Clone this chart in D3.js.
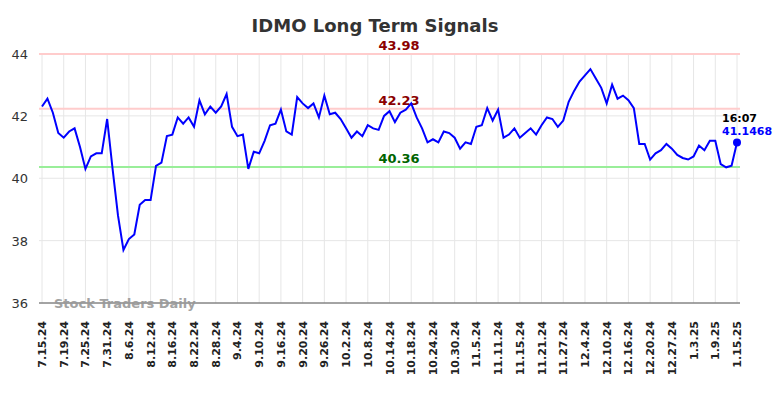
<!DOCTYPE html>
<html>
<head>
<meta charset="utf-8">
<script src="https://cdn.jsdelivr.net/npm/d3@7"></script>
<style>
  body { margin: 0; background: #fff; }
  svg { font-family: "DejaVu Sans", sans-serif; }
</style>
</head>
<body>
<svg id="chart"></svg>
<script>
// tick labels, one every 4 trading days
const tickLabels = ["7.15.24","7.19.24","7.25.24","7.31.24","8.6.24","8.12.24","8.16.24","8.22.24",
  "8.28.24","9.4.24","9.10.24","9.16.24","9.20.24","9.26.24","10.2.24","10.8.24","10.14.24",
  "10.18.24","10.24.24","10.30.24","11.5.24","11.11.24","11.15.24","11.21.24","11.27.24",
  "12.4.24","12.10.24","12.16.24","12.20.24","12.27.24","1.3.25","1.9.25","1.15.25"];

// daily closes
const prices = [42.3,42.55,42.1,41.45,41.3,41.5,41.6,41.0,40.3,40.7,40.8,40.8,41.9,40.3,38.8,37.7,
  38.05,38.2,39.15,39.3,39.3,40.4,40.5,41.35,41.4,41.95,41.75,41.95,41.65,42.5,42.05,42.3,42.1,
  42.3,42.7,41.65,41.35,41.4,40.3,40.85,40.8,41.2,41.7,41.75,42.2,41.5,41.4,42.6,42.4,42.25,42.4,
  41.95,42.65,42.05,42.1,41.9,41.6,41.3,41.5,41.35,41.7,41.6,41.55,42.0,42.15,41.8,42.1,42.2,
  42.4,41.95,41.6,41.15,41.25,41.15,41.5,41.45,41.3,40.95,41.15,41.1,41.65,41.7,42.25,41.85,
  42.2,41.3,41.4,41.6,41.3,41.45,41.6,41.4,41.7,41.95,41.9,41.65,41.85,42.45,42.8,43.1,43.3,
  43.5,43.2,42.9,42.4,43.0,42.55,42.65,42.5,42.25,41.1,41.1,40.6,40.8,40.9,41.1,40.95,40.75,
  40.65,40.6,40.7,41.05,40.9,41.2,41.2,40.45,40.35,40.4,41.1468];

const signalLevels = [43.98, 42.23, 40.36];
const signalColors = ["#ffcccc", "#ffcccc", "#99ee99"];
const signalTextColors = ["#8b0000", "#8b0000", "#006400"];
const yTicks = [36, 38, 40, 42, 44];
const lastTime = "16:07";

const width = 784, height = 398;
const svg = d3.select("#chart").attr("width", width).attr("height", height);

const x = d3.scaleLinear().domain([0, prices.length - 1]).range([42, 737]);
const y = d3.scaleLinear().domain([36, 44]).range([303, 53.5]);
const left = 39, right = 740;

// title
svg.append("text")
  .attr("x", 375).attr("y", 32)
  .attr("text-anchor", "middle")
  .attr("font-size", 18).attr("font-weight", "bold")
  .attr("fill", "#333")
  .text("IDMO Long Term Signals");

// grid
const grid = svg.append("g");
grid.selectAll("line.h").data(yTicks).enter().append("line")
  .attr("x1", left).attr("x2", right)
  .attr("y1", d => y(d)).attr("y2", d => y(d))
  .attr("stroke", "#e6e6e6").attr("stroke-width", 1);
grid.selectAll("line.v").data(tickLabels).enter().append("line")
  .attr("x1", (d, i) => x(i * 4)).attr("x2", (d, i) => x(i * 4))
  .attr("y1", y(44)).attr("y2", y(36))
  .attr("stroke", "#e6e6e6").attr("stroke-width", 1);

// y labels
svg.append("g").selectAll("text").data(yTicks).enter().append("text")
  .attr("x", 28).attr("y", d => y(d) + 5)
  .attr("text-anchor", "end")
  .attr("font-size", 13).attr("fill", "#333")
  .text(d => d);

// signal lines
svg.append("g").selectAll("line").data(signalLevels).enter().append("line")
  .attr("x1", left).attr("x2", right)
  .attr("y1", d => y(d)).attr("y2", d => y(d))
  .attr("stroke", (d, i) => signalColors[i]).attr("stroke-width", 2);

svg.append("g").selectAll("text").data(signalLevels).enter().append("text")
  .attr("x", 399).attr("y", d => y(d) - 4)
  .attr("text-anchor", "middle")
  .attr("font-size", 13).attr("font-weight", "bold")
  .attr("fill", (d, i) => signalTextColors[i])
  .text(d => d.toFixed(2));

// axis line
svg.append("line")
  .attr("x1", left).attr("x2", right)
  .attr("y1", y(36)).attr("y2", y(36))
  .attr("stroke", "#555").attr("stroke-width", 1);

// watermark
svg.append("text")
  .attr("x", 54).attr("y", 308)
  .attr("font-size", 13).attr("font-weight", "bold")
  .attr("fill", "#999").attr("opacity", 0.9)
  .text("Stock Traders Daily");

// x labels
svg.append("g").selectAll("text").data(tickLabels).enter().append("text")
  .attr("transform", (d, i) => `translate(${x(i * 4) + 4},${y(36) + 18}) rotate(-90)`)
  .attr("text-anchor", "end")
  .attr("font-size", 11).attr("font-weight", "bold")
  .attr("fill", "#222")
  .text(d => d);

// price line
const line = d3.line().x((d, i) => x(i)).y(d => y(d));
svg.append("path")
  .datum(prices)
  .attr("d", line)
  .attr("fill", "none")
  .attr("stroke", "#0000ff").attr("stroke-width", 2);

// last point
const last = prices.length - 1;
svg.append("circle")
  .attr("cx", x(last)).attr("cy", y(prices[last]))
  .attr("r", 4).attr("fill", "#0000ff");

svg.append("text")
  .attr("x", x(last) - 15).attr("y", y(prices[last]) - 20)
  .attr("font-size", 11).attr("font-weight", "bold").attr("fill", "#000")
  .text(lastTime);
svg.append("text")
  .attr("x", x(last) - 15).attr("y", y(prices[last]) - 7)
  .attr("font-size", 11).attr("font-weight", "bold").attr("fill", "#0000ff")
  .text(prices[last]);
</script>
</body>
</html>
